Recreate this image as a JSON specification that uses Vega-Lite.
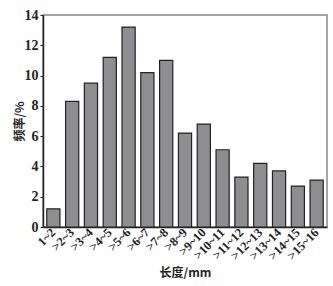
{
  "$schema": "https://vega.github.io/schema/vega-lite/v6.json",
  "width": 284,
  "height": 212,
  "autosize": {"type": "none"},
  "padding": {"left": 43, "top": 15, "right": 6, "bottom": 59},
  "background": "white",
  "config": {
    "view": {"stroke": "#888888", "strokeWidth": 1.5},
    "font": "Liberation Serif"
  },
  "data": {
    "values": [
      {"len": "1~2", "freq": 1.2},
      {"len": ">2~3", "freq": 8.3},
      {"len": ">3~4", "freq": 9.5},
      {"len": ">4~5", "freq": 11.2},
      {"len": ">5~6", "freq": 13.2},
      {"len": ">6~7", "freq": 10.2},
      {"len": ">7~8", "freq": 11.0},
      {"len": ">8~9", "freq": 6.2},
      {"len": ">9~10", "freq": 6.8},
      {"len": ">10~11", "freq": 5.1},
      {"len": ">11~12", "freq": 3.3},
      {"len": ">12~13", "freq": 4.2},
      {"len": ">13~14", "freq": 3.7},
      {"len": ">14~15", "freq": 2.7},
      {"len": ">15~16", "freq": 3.1}
    ]
  },
  "mark": {"type": "bar", "fill": "#8e8e90", "stroke": "#222222", "strokeWidth": 1.2},
  "encoding": {
    "x": {
      "field": "len", "type": "nominal", "sort": null,
      "scale": {"paddingInner": 0.3, "paddingOuter": 0.2},
      "axis": {
        "title": "长度/mm", "titleFont": "Noto Sans CJK SC", "titleFontWeight": "bold", "titleFontSize": 12,
        "titleColor": "#222", "titlePadding": 6,
        "labelAngle": -45, "labelAlign": "right", "labelBaseline": "middle", "labelFontSize": 12.5, "labelFontWeight": "bold",
        "labelColor": "#222", "labelPadding": 3,
        "ticks": false, "domainColor": "#222", "domainWidth": 1.5
      }
    },
    "y": {
      "field": "freq", "type": "quantitative",
      "scale": {"domain": [0, 14], "nice": false},
      "axis": {
        "title": "频率/%", "titleFont": "Noto Sans CJK SC", "titleFontWeight": "bold", "titleFontSize": 12,
        "titleColor": "#222", "titlePadding": -2,
        "values": [0, 2, 4, 6, 8, 10, 12, 14], "grid": false,
        "labelFontSize": 14, "labelFontWeight": "bold", "labelColor": "#222", "labelPadding": 2,
        "tickSize": 3, "tickColor": "#222", "domainColor": "#222", "domainWidth": 1.5
      }
    }
  }
}
